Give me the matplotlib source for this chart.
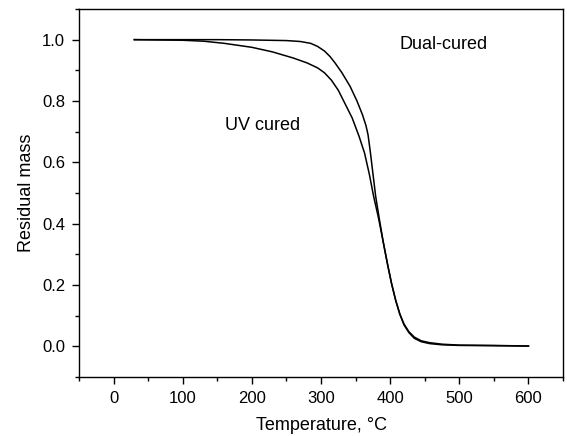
import numpy as np
import matplotlib
matplotlib.use('Agg')
import matplotlib.pyplot as plt
from matplotlib.ticker import MultipleLocator

plt.rcParams['font.family'] = ['Liberation Sans', 'DejaVu Sans']

# Dual-cured curve
T_dual = [30, 100, 150, 200, 250, 270, 285, 295, 305, 313, 320, 330, 342,
          352, 360, 365, 368, 371, 375, 379, 384, 390, 396, 402, 408, 414,
          420, 427, 435, 445, 457, 475, 500, 550, 600]
m_dual = [1.0, 1.0, 1.0, 0.999, 0.997, 0.994, 0.988, 0.978, 0.963, 0.945,
          0.925, 0.893, 0.848, 0.80, 0.755, 0.72, 0.69, 0.64, 0.565, 0.49,
          0.42, 0.34, 0.27, 0.205, 0.15, 0.105, 0.073, 0.048, 0.03, 0.018,
          0.012, 0.007, 0.004, 0.003, 0.001]

# UV cured curve
T_uv = [30, 100, 130, 160, 200, 230, 260, 280, 295, 305, 315, 325, 335,
        345, 355, 363, 370, 376, 383, 390, 396, 402, 408, 414, 420, 427,
        435, 445, 457, 475, 500, 550, 600]
m_uv = [1.0, 0.998, 0.995, 0.988, 0.975, 0.960, 0.940, 0.924, 0.908, 0.892,
        0.868, 0.835, 0.79, 0.745, 0.685, 0.63, 0.56, 0.49, 0.42, 0.34,
        0.27, 0.205, 0.15, 0.105, 0.07, 0.045, 0.026, 0.015, 0.009, 0.005,
        0.003, 0.002, 0.001]

fig = plt.figure(figsize=(5.67, 4.36), dpi=100)
ax = fig.add_axes([0.1393, 0.1353, 0.8537, 0.8441])

ax.plot(T_dual, m_dual, color='black', lw=1.1)
ax.plot(T_uv, m_uv, color='black', lw=1.1)

ax.set_xlim(-50, 650)
ax.set_ylim(-0.1, 1.1)
ax.xaxis.set_major_locator(MultipleLocator(100))
ax.xaxis.set_minor_locator(MultipleLocator(50))
ax.yaxis.set_major_locator(MultipleLocator(0.2))
ax.yaxis.set_minor_locator(MultipleLocator(0.1))
ax.yaxis.set_major_formatter(plt.FormatStrFormatter('%.1f'))
ax.tick_params(which='major', direction='out', length=5, width=1,
               labelsize=12, pad=5)
ax.tick_params(which='minor', direction='out', length=3, width=1)
for s in ax.spines.values():
    s.set_linewidth(1.0)

ax.set_xlabel('Temperature, \u00b0C', fontsize=13, labelpad=8)
ax.set_ylabel('Residual mass', fontsize=13, labelpad=5)

ax.text(414, 0.985, 'Dual-cured', fontsize=13, va='center', ha='left')
ax.text(161, 0.72, 'UV cured', fontsize=13, va='center', ha='left')

fig.savefig('out.png', dpi=100)
